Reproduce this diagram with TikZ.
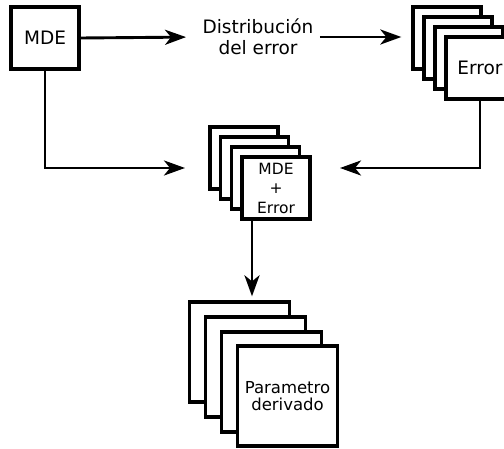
\documentclass[tikz,border=0pt]{standalone}
\usepackage{fontspec}
\setmainfont{DejaVu Sans}
\usepackage{tikz}
\usetikzlibrary{arrows.meta}

\tikzset{
  hoja/.style={draw, line width=3.3pt, fill=white, inner sep=0pt, align=center},
  flecha/.style={line width=2.9pt, -{Stealth[length=21pt, width=15pt, inset=6pt]}},
}

\begin{document}
\begin{tikzpicture}[x=1pt, y=-1pt]
        \useasboundingbox (0,0) rectangle (504,449);

        % Modelo digital de elevaciones
        \node[hoja, minimum width=68pt, minimum height=62pt, font=\fontsize{18.5}{22}\selectfont] (mde) at (45,38) {MDE};
        \node[align=center, font=\fontsize{18.5}{21}\selectfont] (dist) at (258,37) {Distribución\\del error};

        % Pila de errores
        \foreach \i in {0,1,2}
            \node[hoja, minimum width=68pt, minimum height=62pt] (err\i) at ({447+11*\i},{38+10*\i}) {};
        \node[hoja, minimum width=68pt, minimum height=62pt, font=\fontsize{18.5}{22}\selectfont] (err3) at (480,68) {Error};

        % Pila de MDE + Error
        \foreach \i in {0,1,2}
            \node[hoja, minimum width=68pt, minimum height=62pt] (mid\i) at ({244+10.7*\i},{158+10*\i}) {};
        \node[hoja, minimum width=68pt, minimum height=62pt, font=\fontsize{15.5}{19.5}\selectfont] (mid3) at (276,188) {MDE\\+\\Error};

        % Pila de parametros derivados
        \foreach \i in {0,1,2}
            \node[hoja, minimum size=100pt] (par\i) at ({239.5+16*\i},{352+15*\i}) {};
        \node[hoja, minimum size=100pt, font=\fontsize{16.5}{17.5}\selectfont] (par3) at (287.5,396) {Parametro\\derivado};

        % Flechas
        \coordinate (inL) at (185,168);
        \coordinate (inR) at (340,168);
        \draw[flecha, shorten >=13pt] (mde.east) -- (dist.west);
        \draw[flecha, shorten <=3pt, shorten >=10pt] (dist.east) -- (dist.east -| err0.west);
        \draw[flecha] (mde.south) |- (inL);
        \draw[flecha] (err3.south) |- (inR);
        \draw[flecha, shorten >=4pt] ([xshift=-24pt]mid3.south) -- ([xshift=-24pt]mid3.south |- par0.north);
    \end{tikzpicture}
\end{document}
